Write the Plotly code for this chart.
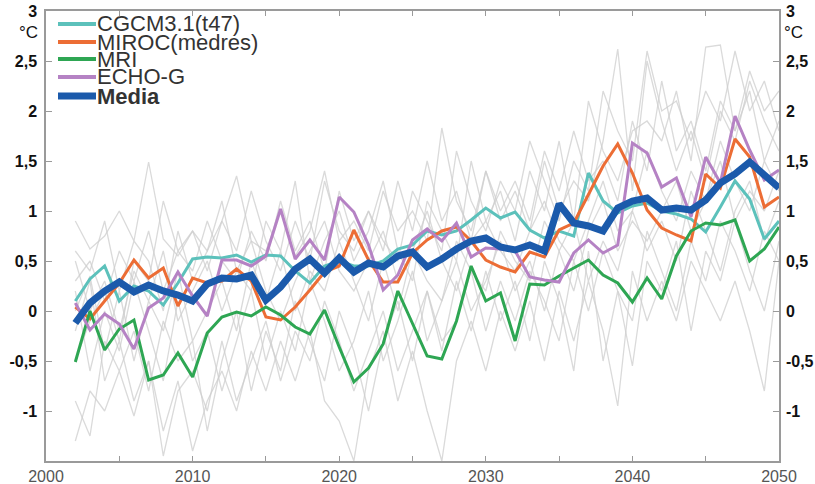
import plotly.graph_objects as go

years = list(range(2002, 2051))

cgcm = [0.10, 0.32, 0.45, 0.10, 0.25, 0.20, 0.06, 0.28, 0.52, 0.54,
        0.53, 0.56, 0.49, 0.56, 0.55, 0.40, 0.28, 0.45, 0.50, 0.45,
        0.45, 0.50, 0.62, 0.66, 0.80, 0.76, 0.80, 0.91, 1.03, 0.93,
        0.99, 0.81, 0.73, 0.80, 0.75, 1.38, 1.10, 0.98, 1.05, 1.08,
        1.00, 0.97, 0.92, 0.79, 1.04, 1.30, 1.12, 0.72, 0.90]

miroc = [0.04, -0.08, 0.10, 0.28, 0.51, 0.33, 0.43, 0.05, 0.33, 0.28,
         0.30, 0.42, 0.30, -0.06, -0.09, 0.04, 0.21, 0.39, 0.45, 0.81,
         0.51, 0.29, 0.29, 0.58, 0.71, 0.80, 0.84, 0.70, 0.51, 0.44,
         0.39, 0.59, 0.54, 0.81, 0.88, 1.17, 1.45, 1.67, 1.38, 1.01,
         0.83, 0.76, 0.70, 1.37, 1.23, 1.72, 1.54, 1.04, 1.14]

mri = [-0.51, 0.00, -0.39, -0.18, -0.09, -0.69, -0.64, -0.42, -0.66, -0.22,
       -0.06, -0.01, -0.05, 0.04, -0.04, -0.16, -0.23, 0.01, -0.36, -0.71,
       -0.57, -0.33, 0.20, -0.12, -0.45, -0.48, -0.10, 0.45, 0.10, 0.18,
       -0.30, 0.27, 0.26, 0.35, 0.43, 0.51, 0.36, 0.28, 0.09, 0.33,
       0.12, 0.55, 0.80, 0.88, 0.86, 0.91, 0.50, 0.62, 0.84]

echo = [0.08, -0.19, -0.03, -0.13, -0.38, 0.03, 0.13, 0.39, 0.15, -0.05,
        0.51, 0.51, 0.45, 0.55, 1.02, 0.52, 0.71, 0.51, 1.14, 0.99,
        0.66, 0.21, 0.36, 0.71, 0.82, 0.70, 0.88, 0.54, 0.63, 0.62,
        0.60, 0.34, 0.31, 0.29, 0.58, 0.71, 0.58, 0.66, 1.68, 1.58,
        1.24, 1.33, 0.94, 1.54, 1.28, 1.95, 1.61, 1.31, 1.41]

media = [-0.12, 0.08, 0.20, 0.29, 0.19, 0.26, 0.20, 0.16, 0.10, 0.27,
         0.33, 0.32, 0.36, 0.11, 0.24, 0.42, 0.52, 0.38, 0.53, 0.39,
         0.48, 0.44, 0.55, 0.59, 0.44, 0.52, 0.62, 0.70, 0.73, 0.64,
         0.61, 0.66, 0.60, 1.07, 0.88, 0.85, 0.80, 1.03, 1.10, 1.13,
         1.01, 1.03, 1.01, 1.11, 1.28, 1.37, 1.49, 1.35, 1.23]

grey_runs = [
    [0.9, 0.62, 0.75, 1.0, 0.7, 1.49, 0.72, 0.55, 0.8, 0.6,
     0.9, 1.35, 0.7, 0.6, 1.0, 0.55, 0.8, 1.4, 0.7, 0.9,
     0.6, 1.2, 0.8, 1.0, 0.7, 1.83, 1.1, 0.8, 1.4, 0.9,
     1.2, 0.8, 1.5, 1.0, 1.3, 1.1, 1.7, 2.62, 1.2, 2.5,
     1.9, 1.4, 1.8, 1.3, 2.0, 1.7, 2.3, 1.9, 1.6],
    [-1.3, -0.8, -1.0, -0.6, -1.05, -0.5, -1.2, -0.7, -1.4, -0.9,
     -0.6, -1.0, -0.4, -0.8, -0.3, -0.7, -0.2, -0.9, -1.1, -1.5,
     -0.6, -0.2, -0.9, -0.4, -1.0, -1.5, -0.5, -0.1, -0.6, 0.0,
     -0.4, 0.1, -0.5, 0.2, -0.3, 0.3, -0.2, -0.95, 0.4, -0.1,
     0.3, -0.1, 0.5, 0.2, -0.1, 0.3, -0.2, -0.8, 0.5],
    [-0.9, -1.25, -0.3, -0.6, -0.2, -0.8, -0.1, -0.5, -0.3, -1.2,
     -0.5, 0.0, -0.8, -0.2, -0.6, 0.1, -0.3, -0.7, 0.0, -0.4,
     -1.0, -0.3, 0.1, -0.5, 0.2, -0.4, 0.3, -0.2, 0.4, -0.1,
     0.3, -0.3, 0.5, 0.1, -0.6, 0.6, -0.5, 0.2, -0.55, 0.5,
     0.2, 0.7, -0.2, 0.6, 0.3, 0.9, 0.4, 0.0, 0.7],
    [0.3, 0.5, 0.1, 0.6, 0.3, 0.8, 0.2, 0.6, 0.4, 0.9,
     0.5, 0.3, 0.8, 0.5, 1.1, 0.6, 0.9, 0.4, 1.2, 0.7,
     1.0, 0.6, 1.3, 0.8, 1.5, 0.9, 1.2, 0.7, 1.4, 1.0,
     1.3, 0.9, 1.6, 1.2, 1.8, 1.3, 1.5, 1.1, 1.9, 1.4,
     2.3, 1.6, 1.9, 1.4, 2.1, 1.8, 2.2, 1.5, 1.9],
    [0.5, 0.0, 0.3, -0.2, 0.4, 0.1, 0.6, -0.1, 0.2, 0.5,
     0.0, 0.4, 0.7, 0.2, -0.1, 0.3, 0.6, 0.9, 0.4, 0.2,
     0.5, 0.8, 0.3, 0.6, 1.0, 0.5, 0.2, 0.7, 0.9, 0.6,
     0.4, 0.8, 1.1, 0.7, 0.5, 0.9, 1.3, 0.8, 1.0, 1.6,
     1.2, 0.9, 1.4, 1.1, 1.7, 1.3, 1.0, 1.5, 1.2],
    [0.0, 0.35, -0.4, 0.2, -0.5, 0.1, -0.2, 0.4, -0.3, 0.0,
     0.3, -0.2, 0.5, 0.1, 0.6, 0.0, 0.4, 0.2, 0.7, 0.3,
     -0.1, 0.5, 0.0, 0.6, 0.3, 0.1, 0.7, 0.4, 0.2, 0.8,
     0.5, 0.3, 0.9, 0.6, 0.2, 0.8, 1.1, 0.6, 0.9, 0.7,
     1.0, 1.3, 0.8, 1.1, 1.5, 0.9, 1.2, 1.0, 1.4],
    [-0.5, -0.1, 0.2, -0.3, 0.5, 0.3, 1.1, 0.6, 0.8, 0.4,
     0.9, 0.6, 1.2, 0.7, 0.4, 0.9, 0.5, 1.3, 0.8, 0.6,
     1.0, 0.7, 0.5, 1.2, 0.9, 0.6, 1.6, 1.1, 0.8, 1.3,
     1.0, 1.7, 1.3, 0.9, 1.5, 1.2, 2.2, 1.8, 1.5, 2.6,
     2.0, 2.1, 1.7, 2.2, 1.9, 2.6, 2.0, 2.3, 1.8],
    [0.2, -0.6, 0.0, -0.4, 0.3, -0.2, -0.7, 0.1, -0.5, -0.2,
     -0.8, -0.3, 0.2, -0.5, 0.0, -0.4, 0.3, -0.1, -0.6, -0.3,
     0.2, -0.5, -0.1, 0.4, -0.3, 0.1, 0.5, 0.0, 0.3, 0.7,
     0.2, 0.5, 0.0, 0.6, 0.9, 0.3, 0.7, 0.4, 1.0, 0.6,
     0.9, 0.5, 1.2, 0.8, 0.4, 1.0, 1.3, 0.7, 1.1],
    [0.6, 0.4, 0.9, 0.2, 0.7, 0.5, 0.0, 0.8, 0.3, 0.6,
     1.1, 0.4, 0.2, 0.9, 0.6, 1.3, 0.3, 0.7, 1.0, 0.5,
     0.8, 1.3, 0.6, 0.3, 1.1, 0.8, 0.5, 1.5, 0.9, 1.2,
     0.7, 1.4, 1.0, 1.7, 0.9, 2.1, 1.6, 1.3, 1.8, 1.9,
     1.7, 2.2, 1.5, 2.64, 2.66, 1.8, 2.4, 2.0, 2.2],
    [-0.2, 0.3, -0.7, -0.3, -0.9, -0.5, -1.45, -0.8, -0.6, -1.0,
     -0.3, -0.9, -0.5, -0.1, -0.7, -0.2, -0.5, 0.1, -0.3, -0.8,
     -0.4, 0.0, -0.6, -0.2, 0.2, -0.3, -0.1, 0.4, -0.2, 0.3,
     -0.1, 0.4, 0.1, -0.3, 0.5, 0.0, 0.6, 0.2, -0.1, 0.8,
     0.4, 0.0, 0.7, 0.3, 0.9, 0.6, 0.2, 0.8, 0.5],
]

series_names = ["CGCM3.1(t47)", "MIROC(medres)", "MRI", "ECHO-G", "Media"]
series_colors = ["#5cc1bb", "#ec6d35", "#2ea653", "#b582c4", "#1b5aab"]
series_widths = [3, 3, 3, 3, 7]

ytick_vals = [-1, -0.5, 0, 0.5, 1, 1.5, 2, 2.5, 3]
ytick_text = ["-1", "-0,5", "0", "0,5", "1", "1,5", "2", "2,5", "3"]
xtick_vals = [2000, 2005, 2010, 2015, 2020, 2025, 2030, 2035, 2040, 2045, 2050]
xtick_text = ["2000", "", "2010", "", "2020", "", "2030", "", "2040", "", "2050"]

W, H = 815, 484
L, T = 46, 11
R = W - 779
B = H - 461
pw, ph = W - L - R, H - T - B


def px(xpage):
    return (xpage - L) / pw


def py(ypage):
    return (H - B - ypage) / ph


fig = go.Figure()
for run in grey_runs:
    fig.add_trace(go.Scatter(x=years, y=run, mode="lines",
                             line=dict(color="rgba(205,205,205,0.75)", width=1.3),
                             showlegend=False, hoverinfo="skip"))

data = [cgcm, miroc, mri, echo, media]
for name, vals, col, w in zip(series_names, data, series_colors, series_widths):
    fig.add_trace(go.Scatter(x=years, y=vals, mode="lines", name=name,
                             line=dict(color=col, width=w),
                             showlegend=False,
                             yaxis="y2" if name == "Media" else "y"))

FONT = "Liberation Sans, Arial, sans-serif"
axis_grey = "#9a9a9a"

yax = dict(range=[-1.5, 3], tickvals=ytick_vals, ticktext=ytick_text,
           ticks="inside", ticklen=6, tickcolor=axis_grey,
           showline=True, linecolor=axis_grey, linewidth=1.5,
           showgrid=False, zeroline=False, automargin=False,
           tickfont=dict(family=FONT, size=16, color="#111", weight="bold"))

fig.update_layout(
    width=W, height=H,
    margin=dict(l=L, r=R, t=T, b=B),
    paper_bgcolor="white", plot_bgcolor="white",
    showlegend=False,
    xaxis=dict(range=[2000, 2050], tickvals=xtick_vals, ticktext=xtick_text,
               ticks="inside", ticklen=5, tickcolor=axis_grey,
               showline=True, linecolor=axis_grey, linewidth=1.5, mirror="ticks",
               showgrid=False, zeroline=False, automargin=False,
               tickfont=dict(family=FONT, size=16, color="#555")),
    yaxis=dict(side="left", ticklabelstandoff=4, **yax),
    yaxis2=dict(side="right", overlaying="y", ticklabelstandoff=2, **yax),
)

# degree labels
for xpage in (28, 793):
    fig.add_annotation(x=px(xpage), y=py(33), xref="paper", yref="paper",
                       text="°C", showarrow=False, xanchor="center", yanchor="middle",
                       font=dict(family=FONT, size=17, color="#111"))

# custom legend
leg_y = [24, 42, 59, 77, 96]
for name, col, w, ly in zip(series_names, series_colors, series_widths, leg_y):
    yp = py(ly)
    fig.add_shape(type="line", xref="paper", yref="paper",
                  x0=px(58), x1=px(96), y0=yp, y1=yp,
                  line=dict(color=col, width=4 if w < 5 else 7))
    fig.add_annotation(x=px(97), y=yp, xref="paper", yref="paper",
                       xshift=-2,
                       text=name, showarrow=False, xanchor="left", yanchor="middle",
                       font=dict(family=FONT, size=22, color="#333",
                                 weight="bold" if name == "Media" else "normal"))

fig.write_html("out.html",
               config={"displayModeBar": False},
               post_script="document.body.style.margin='0px';"
                           "document.body.style.overflow='hidden';")
